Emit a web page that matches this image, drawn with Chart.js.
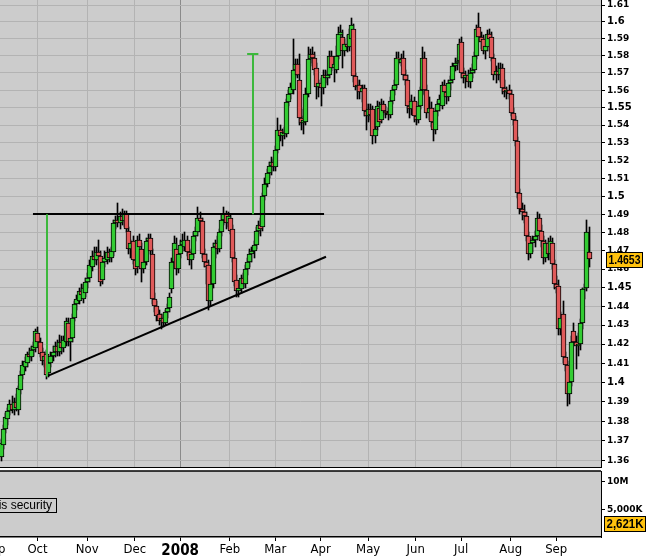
<!DOCTYPE html>
<html>
<head>
<meta charset="utf-8">
<script src="https://cdn.jsdelivr.net/npm/chart.js@4.4.1/dist/chart.umd.min.js"></script>
<style>
  html, body { margin: 0; padding: 0; background: #fff; }
  canvas { display: block; }
</style>
</head>
<body>
<canvas id="price" width="650" height="468"></canvas>
<canvas id="volume" width="650" height="88"></canvas>
<script>
// --- DATA: one daily candle per weekday, 6 Sep 2007 .. 22 Sep 2008 ---
const opens = [
  1.362,1.368,1.376,1.381,1.385,1.389,1.386,1.390,1.386,1.396,
  1.404,1.408,1.410,1.415,1.413,1.417,1.418,1.426,1.421,1.416,
  1.411,1.415,1.405,1.410,1.414,1.416,1.419,1.416,1.421,1.418,
  1.421,1.431,1.421,1.423,1.434,1.441,1.443,1.448,1.444,1.447,
  1.453,1.455,1.461,1.467,1.465,1.469,1.467,1.454,1.464,1.465,
  1.469,1.466,1.469,1.485,1.487,1.485,1.489,1.486,1.490,1.481,
  1.471,1.475,1.465,1.461,1.476,1.471,1.460,1.464,1.475,1.477,
  1.468,1.444,1.440,1.436,1.432,1.434,1.431,1.437,1.439,1.449,
  1.464,1.471,1.460,1.468,1.473,1.472,1.476,1.469,1.465,1.468,
  1.478,1.480,1.488,1.486,1.468,1.464,1.462,1.443,1.452,1.472,
  1.474,1.471,1.480,1.487,1.490,1.485,1.488,1.482,1.466,1.454,
  1.448,1.449,1.455,1.452,1.460,1.464,1.468,1.470,1.473,1.481,
  1.484,1.483,1.500,1.507,1.513,1.517,1.519,1.516,1.526,1.537,
  1.534,1.536,1.535,1.553,1.558,1.560,1.572,1.575,1.566,1.544,
  1.541,1.542,1.558,1.578,1.581,1.579,1.573,1.562,1.564,1.561,
  1.569,1.567,1.569,1.580,1.573,1.572,1.580,1.592,1.591,1.583,
  1.587,1.585,1.590,1.596,1.568,1.562,1.563,1.559,1.561,1.548,
  1.545,1.549,1.549,1.534,1.539,1.550,1.543,1.552,1.548,1.547,
  1.546,1.554,1.560,1.563,1.579,1.576,1.579,1.569,1.566,1.551,
  1.549,1.554,1.545,1.543,1.551,1.560,1.579,1.560,1.547,1.550,
  1.542,1.537,1.548,1.552,1.551,1.563,1.559,1.556,1.564,1.566,
  1.574,1.576,1.577,1.588,1.570,1.567,1.569,1.565,1.570,1.572,
  1.580,1.597,1.591,1.590,1.583,1.585,1.593,1.591,1.579,1.569,
  1.571,1.569,1.573,1.561,1.559,1.560,1.558,1.547,1.543,1.531,
  1.502,1.493,1.491,1.489,1.478,1.468,1.474,1.476,1.478,1.488,
  1.481,1.475,1.466,1.474,1.468,1.474,1.463,1.452,1.451,1.428,
  1.436,1.413,1.409,1.394,1.400,1.427,1.421,1.419,1.420,1.431,
  1.449,1.450,1.4695
];
const highs = [
  1.371,1.378,1.384,1.387,1.391,1.393,1.392,1.394,1.398,1.406,
  1.411,1.413,1.416,1.418,1.419,1.421,1.428,1.429,1.423,1.418,
  1.416,1.417,1.411,1.416,1.419,1.421,1.422,1.425,1.424,1.424,
  1.434,1.434,1.425,1.436,1.443,1.446,1.450,1.452,1.452,1.455,
  1.458,1.465,1.470,1.472,1.472,1.476,1.470,1.466,1.470,1.472,
  1.471,1.472,1.487,1.489,1.496,1.491,1.493,1.492,1.492,1.483,
  1.476,1.478,1.468,1.478,1.479,1.474,1.466,1.477,1.479,1.479,
  1.471,1.447,1.443,1.438,1.436,1.436,1.438,1.441,1.447,1.466,
  1.478,1.477,1.470,1.476,1.479,1.480,1.478,1.471,1.470,1.480,
  1.483,1.494,1.491,1.488,1.471,1.468,1.465,1.455,1.474,1.476,
  1.478,1.482,1.490,1.494,1.492,1.491,1.490,1.484,1.469,1.457,
  1.452,1.457,1.458,1.462,1.466,1.471,1.472,1.475,1.483,1.486,
  1.488,1.502,1.510,1.515,1.519,1.522,1.521,1.528,1.544,1.540,
  1.538,1.539,1.555,1.560,1.564,1.590,1.578,1.578,1.581,1.549,
  1.545,1.561,1.585,1.584,1.585,1.582,1.576,1.566,1.567,1.572,
  1.572,1.571,1.583,1.583,1.578,1.586,1.597,1.598,1.595,1.590,
  1.592,1.596,1.602,1.599,1.570,1.566,1.566,1.563,1.563,1.552,
  1.552,1.552,1.551,1.540,1.554,1.553,1.555,1.554,1.551,1.550,
  1.556,1.562,1.566,1.582,1.582,1.581,1.583,1.572,1.569,1.555,
  1.557,1.556,1.549,1.553,1.562,1.585,1.582,1.563,1.556,1.553,
  1.545,1.550,1.554,1.557,1.565,1.566,1.562,1.566,1.568,1.576,
  1.579,1.579,1.590,1.591,1.573,1.571,1.572,1.573,1.575,1.582,
  1.598,1.605,1.594,1.592,1.588,1.595,1.596,1.594,1.581,1.574,
  1.576,1.576,1.575,1.566,1.562,1.563,1.560,1.550,1.545,1.533,
  1.504,1.496,1.495,1.491,1.480,1.477,1.478,1.481,1.491,1.490,
  1.484,1.478,1.476,1.477,1.478,1.477,1.465,1.456,1.454,1.437,
  1.443,1.416,1.411,1.402,1.424,1.431,1.424,1.426,1.433,1.450,
  1.452,1.487,1.483
];
const lows = [
  1.360,1.366,1.374,1.378,1.383,1.384,1.383,1.385,1.383,1.394,
  1.402,1.406,1.408,1.411,1.411,1.414,1.416,1.419,1.413,1.409,
  1.408,1.402,1.403,1.408,1.411,1.413,1.414,1.414,1.415,1.416,
  1.419,1.419,1.411,1.421,1.432,1.438,1.441,1.444,1.442,1.445,
  1.450,1.453,1.459,1.463,1.462,1.465,1.451,1.452,1.461,1.463,
  1.464,1.464,1.467,1.482,1.483,1.482,1.484,1.483,1.480,1.468,
  1.466,1.463,1.457,1.458,1.470,1.453,1.458,1.462,1.471,1.468,
  1.441,1.437,1.432,1.430,1.428,1.429,1.430,1.434,1.437,1.447,
  1.462,1.457,1.458,1.466,1.470,1.470,1.467,1.462,1.460,1.466,
  1.475,1.478,1.484,1.466,1.461,1.452,1.438,1.440,1.450,1.466,
  1.468,1.469,1.478,1.484,1.482,1.483,1.479,1.464,1.451,1.445,
  1.445,1.447,1.450,1.450,1.457,1.461,1.464,1.466,1.471,1.479,
  1.478,1.481,1.498,1.505,1.510,1.512,1.514,1.514,1.524,1.531,
  1.528,1.532,1.533,1.551,1.555,1.558,1.568,1.567,1.540,1.537,
  1.535,1.540,1.556,1.574,1.576,1.569,1.555,1.556,1.551,1.558,
  1.564,1.563,1.567,1.571,1.565,1.570,1.578,1.588,1.573,1.580,
  1.582,1.583,1.588,1.565,1.560,1.555,1.555,1.553,1.545,1.537,
  1.542,1.543,1.529,1.530,1.537,1.540,1.541,1.546,1.544,1.543,
  1.544,1.552,1.557,1.561,1.575,1.574,1.566,1.563,1.547,1.544,
  1.546,1.542,1.540,1.541,1.549,1.558,1.557,1.544,1.543,1.539,
  1.531,1.535,1.545,1.548,1.549,1.556,1.552,1.554,1.560,1.564,
  1.571,1.572,1.575,1.567,1.564,1.561,1.562,1.561,1.567,1.570,
  1.578,1.588,1.584,1.581,1.578,1.583,1.587,1.577,1.566,1.564,
  1.566,1.565,1.558,1.556,1.555,1.555,1.545,1.540,1.528,1.499,
  1.490,1.487,1.485,1.475,1.465,1.466,1.469,1.472,1.476,1.478,
  1.472,1.463,1.464,1.465,1.465,1.460,1.449,1.447,1.425,1.425,
  1.410,1.406,1.388,1.389,1.398,1.419,1.407,1.414,1.417,1.428,
  1.444,1.448,1.461
];
const closes = [
  1.369,1.376,1.382,1.385,1.389,1.386,1.390,1.387,1.397,1.404,
  1.409,1.411,1.415,1.413,1.417,1.419,1.427,1.421,1.415,1.411,
  1.414,1.404,1.410,1.414,1.416,1.419,1.416,1.421,1.418,1.422,
  1.432,1.421,1.423,1.434,1.441,1.444,1.448,1.446,1.450,1.453,
  1.455,1.462,1.467,1.465,1.469,1.467,1.453,1.464,1.466,1.469,
  1.466,1.470,1.485,1.487,1.485,1.489,1.486,1.490,1.482,1.471,
  1.474,1.465,1.460,1.476,1.472,1.460,1.464,1.475,1.477,1.470,
  1.444,1.440,1.435,1.432,1.434,1.431,1.437,1.439,1.445,1.464,
  1.474,1.460,1.468,1.473,1.475,1.476,1.469,1.465,1.468,1.478,
  1.481,1.488,1.486,1.468,1.464,1.461,1.443,1.452,1.472,1.474,
  1.471,1.480,1.487,1.490,1.485,1.489,1.481,1.466,1.453,1.448,
  1.450,1.455,1.452,1.460,1.464,1.468,1.470,1.473,1.481,1.484,
  1.482,1.500,1.507,1.513,1.517,1.519,1.516,1.526,1.537,1.534,
  1.536,1.535,1.553,1.558,1.562,1.572,1.575,1.569,1.544,1.541,
  1.543,1.558,1.578,1.581,1.579,1.572,1.562,1.564,1.561,1.569,
  1.567,1.569,1.580,1.573,1.575,1.580,1.593,1.594,1.583,1.587,
  1.585,1.593,1.598,1.568,1.562,1.563,1.559,1.561,1.548,1.545,
  1.549,1.546,1.534,1.538,1.551,1.542,1.552,1.548,1.547,1.546,
  1.554,1.560,1.563,1.579,1.578,1.578,1.569,1.566,1.551,1.549,
  1.554,1.545,1.543,1.551,1.560,1.579,1.560,1.547,1.550,1.542,
  1.537,1.548,1.552,1.555,1.563,1.559,1.556,1.564,1.566,1.574,
  1.576,1.577,1.587,1.570,1.567,1.569,1.565,1.570,1.572,1.580,
  1.596,1.591,1.588,1.583,1.586,1.593,1.590,1.579,1.569,1.571,
  1.569,1.573,1.561,1.559,1.560,1.558,1.547,1.543,1.531,1.502,
  1.493,1.491,1.489,1.478,1.468,1.474,1.476,1.478,1.488,1.481,
  1.475,1.466,1.474,1.468,1.475,1.463,1.452,1.450,1.428,1.434,
  1.413,1.409,1.394,1.400,1.421,1.421,1.419,1.420,1.431,1.449,
  1.450,1.480,1.4653
];

// first weekday of each month, as candle index (Sep 2007 starts before the first candle)
const monthTicks  = [-3, 17, 40, 62, 83, 106, 127, 148, 170, 192, 213, 236, 257];
const monthLabels = ['Sep', 'Oct', 'Nov', 'Dec', '2008', 'Feb', 'Mar', 'Apr', 'May', 'Jun', 'Jul', 'Aug', 'Sep'];
const yearTick = 83;

const priceTicks = [1.36, 1.37, 1.38, 1.39, 1.40, 1.41, 1.42, 1.43, 1.44, 1.45, 1.46, 1.47, 1.48,
                    1.49, 1.50, 1.51, 1.52, 1.53, 1.54, 1.55, 1.56, 1.57, 1.58, 1.59, 1.60, 1.61];
const volumeTicks = [5000000, 10000000];
const volumeTickLabels = ['5,000K', '10M'];
const lastVolume = 2621000;

// hand-drawn study lines, in candle index / price units
const neckline  = { from: 14.9, to: 149.6, price: 1.49 };
const trendline = { x1: 22, p1: 1.4035, x2: 150.5, p2: 1.4667 };
const targets   = [ { x: 21.3, from: 1.403, to: 1.49, cap: 0 }, { x: 116.6, from: 1.49, to: 1.581, cap: 2.6 } ];

// --- STYLE ---
const UP = '#33cc33', DOWN = '#e05a5a', PANEL = '#cccccc', GRID = '#b3b3b3', YEAR_GRID = '#8a8a8a';
const STUDY_GREEN = '#3cb83c';
const X_MIN = -0.352, X_MAX = 277.75;

// snap bars to whole pixels so the candles stay crisp like the original
const snapBars = {
  id: 'snapBars',
  afterDatasetsUpdate(chart) {
    chart.data.datasets.forEach((ds, di) => {
      chart.getDatasetMeta(di).data.forEach(el => {
        el.x = Math.round(el.x) + 0.5;
        let top = Math.round(el.y), base = Math.round(el.base);
        if (base === top) base = top + 1;
        el.y = top; el.base = base;
      });
    });
  }
};

const panelBackground = {
  id: 'panelBackground',
  beforeDraw(chart) {
    const { ctx, chartArea: a } = chart;
    ctx.save();
    ctx.fillStyle = PANEL;
    ctx.fillRect(a.left, a.top, a.right - a.left, a.bottom - a.top);
    ctx.restore();
  }
};

function strokeLine(ctx, x1, y1, x2, y2) {
  ctx.beginPath();
  ctx.moveTo(x1, y1);
  ctx.lineTo(x2, y2);
  ctx.stroke();
}

const studyLines = {
  id: 'studyLines',
  afterDatasetsDraw(chart) {
    const { ctx, chartArea: a, scales: { x, y } } = chart;
    ctx.save();
    ctx.beginPath();
    ctx.rect(a.left, a.top, a.right - a.left, a.bottom - a.top);
    ctx.clip();
    ctx.lineWidth = 2;
    ctx.strokeStyle = '#000';
    const ny = Math.round(y.getPixelForValue(neckline.price));
    strokeLine(ctx, x.getPixelForValue(neckline.from), ny, x.getPixelForValue(neckline.to), ny);
    strokeLine(ctx, x.getPixelForValue(trendline.x1), y.getPixelForValue(trendline.p1),
                    x.getPixelForValue(trendline.x2), y.getPixelForValue(trendline.p2));
    ctx.strokeStyle = STUDY_GREEN;
    targets.forEach(t => {
      const tx = Math.round(x.getPixelForValue(t.x));
      const top = y.getPixelForValue(t.to);
      strokeLine(ctx, tx, y.getPixelForValue(t.from), tx, top);
      if (t.cap) {
        strokeLine(ctx, x.getPixelForValue(t.x - t.cap), Math.round(top), x.getPixelForValue(t.x + t.cap), Math.round(top));
      }
    });
    ctx.restore();
  }
};

// yellow value badge; text squeezed horizontally to fit, like the narrow bitmap font of the original
function valueBadge(ctx, left, cy, text, width, font) {
  const top = Math.round(cy - 7.5) + 0.5;
  ctx.fillStyle = '#ffc20e';
  ctx.fillRect(left, top, width, 15);
  ctx.strokeStyle = '#000';
  ctx.lineWidth = 1;
  ctx.strokeRect(left, top, width, 15);
  ctx.font = font;
  ctx.fillStyle = '#000';
  ctx.textAlign = 'center';
  ctx.textBaseline = 'middle';
  const room = width - 4;
  const w = ctx.measureText(text).width;
  const k = w > room ? room / w : 1;
  ctx.save();
  ctx.translate(left + width / 2, top + 8);
  ctx.scale(k, 1);
  ctx.fillText(text, 0, 0);
  ctx.restore();
}

const lastPrice = {
  id: 'lastPrice',
  afterDraw(chart) {
    const { ctx, chartArea: a, scales: { y } } = chart;
    ctx.save();
    const last = closes[closes.length - 1];
    valueBadge(ctx, a.right + 5.5, y.getPixelForValue(last), last.toFixed(4), 36, 'bold 13px "Liberation Sans", Arial, sans-serif');
    ctx.restore();
  }
};

new Chart(document.getElementById('price'), {
  type: 'bar',
  data: {
    datasets: [
      {
        label: 'body',
        data: closes.map((c, i) => ({ x: i, y: [Math.min(opens[i], c), Math.max(opens[i], c)] })),
        backgroundColor: closes.map((c, i) => c >= opens[i] ? UP : DOWN),
        borderColor: '#000',
        borderWidth: 1,
        borderSkipped: false,
        barThickness: 5,
        grouped: false,
        order: 0
      },
      {
        label: 'wick',
        data: highs.map((h, i) => ({ x: i, y: [lows[i], h] })),
        backgroundColor: '#000',
        borderWidth: 0,
        barThickness: 1,
        grouped: false,
        order: 1
      }
    ]
  },
  options: {
    responsive: false,
    animation: false,
    events: [],
    devicePixelRatio: 1,
    layout: { padding: 0 },
    plugins: { legend: { display: false }, tooltip: { enabled: false } },
    scales: {
      x: {
        type: 'linear',
        min: X_MIN,
        max: X_MAX,
        offset: false,
        afterBuildTicks: s => { s.ticks = monthTicks.map(v => ({ value: v })); },
        afterFit: s => { s.height = 1; s.paddingLeft = 0; s.paddingRight = 0; },
        grid: {
          offset: false,
          drawTicks: false,
          color: c => (c.tick && c.tick.value === yearTick) ? YEAR_GRID : GRID
        },
        border: { display: true, color: '#000', width: 1 },
        ticks: { display: false }
      },
      y: {
        type: 'logarithmic',
        position: 'right',
        min: 1.3568,
        max: 1.6130,
        afterBuildTicks: s => { s.ticks = priceTicks.map(v => ({ value: v })); },
        afterFit: s => { s.width = 49; s.paddingTop = 0; s.paddingBottom = 0; },
        grid: { color: GRID, tickLength: 4, tickColor: '#000' },
        border: { display: true, color: '#000', width: 1 },
        ticks: {
          autoSkip: false,
          padding: 2,
          color: '#000',
          callback: v => String(Number(v.toFixed(2))),
          font: c => ({
            family: 'DejaVu Sans',
            weight: 'bold',
            size: (c.tick && Math.round(c.tick.value * 100) % 5 === 0) ? 10 : 9
          })
        }
      }
    }
  },
  plugins: [snapBars, panelBackground, studyLines, lastPrice]
});

// --- VOLUME PANEL (no volume data for this series) ---
const volumeNotes = {
  id: 'volumeNotes',
  afterDraw(chart) {
    const { ctx, chartArea: a, scales: { y } } = chart;
    ctx.save();
    ctx.strokeStyle = '#000';
    ctx.lineWidth = 1.5;
    strokeLine(ctx, a.left, a.top, a.right, a.top);
    ctx.font = '12px "Liberation Sans", Arial, sans-serif';
    ctx.lineWidth = 1;
    ctx.strokeRect(-6.5, 30.5, 63, 14);
    ctx.fillStyle = '#000';
    ctx.textAlign = 'right';
    ctx.textBaseline = 'middle';
    ctx.fillText('No volume for this security', 52, 38);
    valueBadge(ctx, a.right + 3.5, y.getPixelForValue(lastVolume), (lastVolume / 1000).toLocaleString('en-US') + 'K', 41,
               'bold 13px "Liberation Sans", Arial, sans-serif');
    ctx.restore();
  }
};

new Chart(document.getElementById('volume'), {
  type: 'bar',
  data: { datasets: [{ label: 'volume', data: [] }] },
  options: {
    responsive: false,
    animation: false,
    events: [],
    devicePixelRatio: 1,
    layout: { padding: { top: 3 } },
    plugins: { legend: { display: false }, tooltip: { enabled: false } },
    scales: {
      x: {
        type: 'linear',
        min: X_MIN,
        max: X_MAX,
        offset: false,
        afterBuildTicks: s => { s.ticks = monthTicks.map(v => ({ value: v })); },
        afterFit: s => { s.height = 19; s.paddingLeft = 0; s.paddingRight = 0; },
        grid: { offset: false, drawOnChartArea: false, tickLength: 4, tickColor: '#000' },
        border: { display: true, color: '#000', width: 1.5 },
        ticks: {
          autoSkip: false,
          maxRotation: 0,
          padding: 1,
          color: '#000',
          callback: v => monthLabels[monthTicks.indexOf(v)],
          font: c => (c.tick && c.tick.value === yearTick)
            ? { family: '"Liberation Sans Narrow", "DejaVu Sans Condensed"', size: 15, weight: 'bold' }
            : { family: '"Liberation Sans Narrow", "DejaVu Sans Condensed"', size: 13 }
        }
      },
      y: {
        type: 'linear',
        position: 'right',
        min: 180000,
        max: 11960000,
        afterBuildTicks: s => { s.ticks = volumeTicks.map(v => ({ value: v })); },
        afterFit: s => { s.width = 49; s.paddingTop = 0; s.paddingBottom = 0; },
        grid: { drawOnChartArea: false, tickLength: 4, tickColor: '#000' },
        border: { display: true, color: '#000', width: 1 },
        ticks: {
          padding: 2,
          color: '#000',
          callback: v => volumeTickLabels[volumeTicks.indexOf(v)],
          font: { family: 'DejaVu Sans', weight: 'bold', size: 9 }
        }
      }
    }
  },
  plugins: [panelBackground, volumeNotes]
});
</script>
</body>
</html>
